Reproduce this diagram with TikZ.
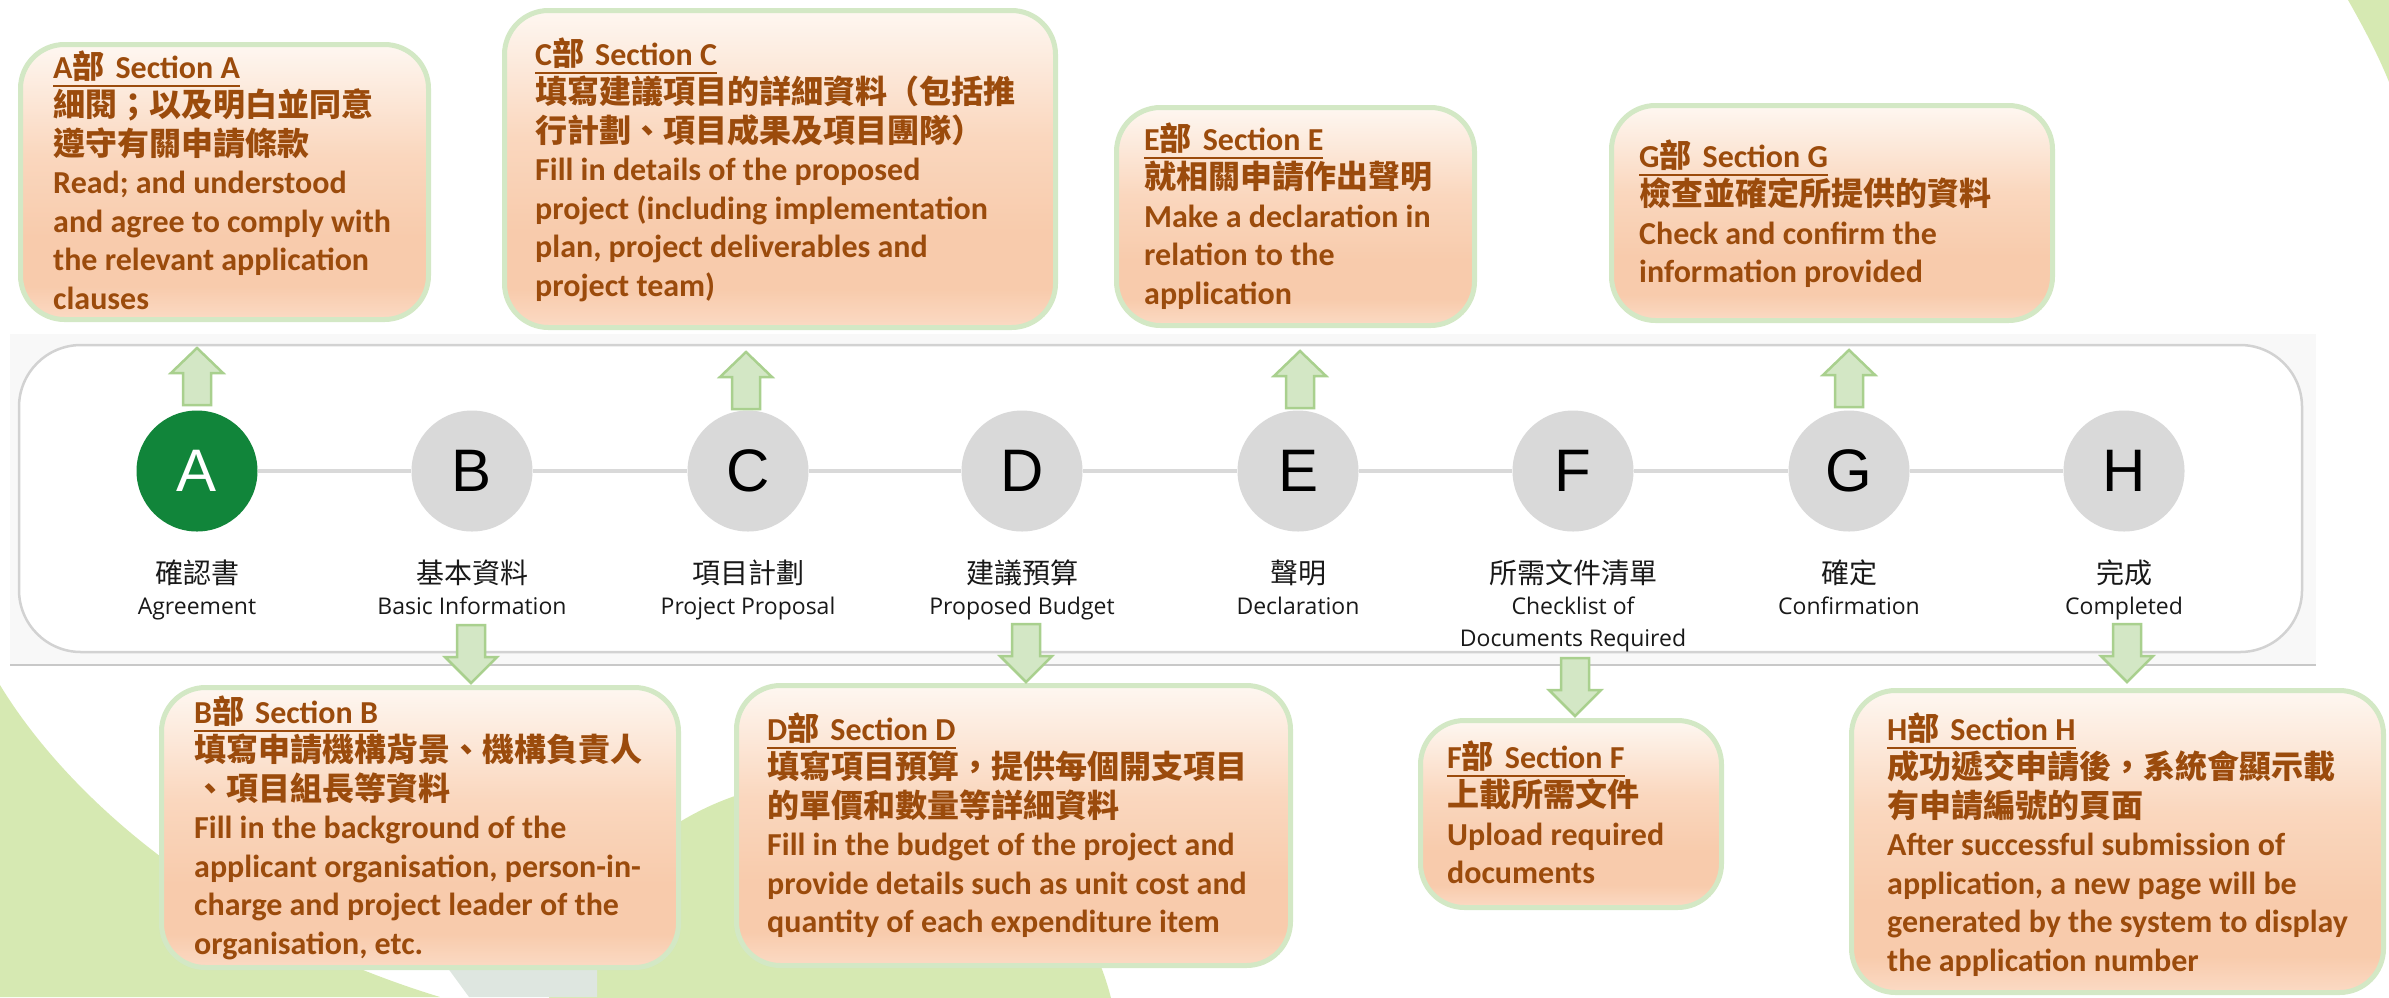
\documentclass[tikz,border=0pt]{standalone}
\usepackage{fontspec}
\setmainfont{Carlito}
\newfontfamily\cjk{Noto Sans CJK TC}
\newfontfamily\lblfont{Open Sans}
\newfontfamily\letterfont{Liberation Sans}
\usetikzlibrary{fit}
\definecolor{txt}{RGB}{155,75,12}
\definecolor{lbltext}{RGB}{25,25,25}
\definecolor{boxline}{RGB}{211,232,197}
\definecolor{arrfill}{RGB}{211,231,197}
\definecolor{arrline}{RGB}{169,208,142}
\definecolor{bgreen}{RGB}{214,233,178}
\definecolor{bgray}{RGB}{222,230,224}
\definecolor{band}{RGB}{248,248,248}
\definecolor{bandline}{RGB}{200,200,200}
\definecolor{panelline}{RGB}{210,210,210}
\definecolor{circgray}{RGB}{217,217,217}
\definecolor{circgreen}{RGB}{17,133,58}
\definecolor{pkT}{RGB}{254,247,241}
\definecolor{pkM}{RGB}{250,215,190}
\definecolor{pkL}{RGB}{248,203,172}
\definecolor{pkB}{RGB}{251,218,196}
\pgfdeclareverticalshading{peach}{100bp}{color(0bp)=(pkB); color(25bp)=(pkB); color(31bp)=(pkL); color(40bp)=(pkL); color(55bp)=(pkM); color(75bp)=(pkT); color(100bp)=(pkT)}
\newsavebox\hb
\newcommand\hdr[1]{\leavevmode\sbox\hb{#1{\cjk 部}\hspace{11pt}Section #1}\rlap{\rule[-9pt]{\wd\hb}{2.4pt}}\usebox\hb}
\tikzset{
 secbox/.style={draw=boxline, line width=5pt, rounded corners=44pt, shading=peach, inner sep=0pt},
 boxtext/.style={anchor=base west, inner sep=0pt, text=txt, font=\fontsize{32}{38.5}\selectfont\bfseries},
 circ/.style={circle, minimum size=121pt, inner sep=0pt, fill=circgray, text=black, font=\letterfont\fontsize{60}{62}\selectfont, text depth=0pt},
 cnlbl/.style={anchor=base, inner sep=0pt, font=\cjk\fontsize{28}{30}\selectfont, text=lbltext},
 enlbl/.style={anchor=base, inner sep=0pt, font=\lblfont\fontsize{23}{32}\selectfont, text=lbltext},
 conn/.style={draw=circgray, line width=4.5pt},
 arr/.style={fill=arrfill, draw=arrline, line width=2.5pt, line join=miter},
 uparrow/.pic={\path[arr] (-14,0) -- (-14,-32) -- (-26,-32) -- (0,-57) -- (26,-32) -- (14,-32) -- (14,0) -- cycle;},
 downarrow/.pic={\path[arr] (-14,0) -- (-14,32) -- (-26,32) -- (0,58) -- (26,32) -- (14,32) -- (14,0) -- cycle;},
}
\begin{document}
\begin{tikzpicture}[x=1pt,y=-1pt]
\useasboundingbox (0,0) rectangle (2389,997);
% background decoration
\begin{scope}
\clip (0,0) rectangle (2389,997);
\fill[bgreen] (2348,0) .. controls (2365,30) and (2378,55) .. (2389,82) -- (2389,0) -- cycle;
\fill[bgreen] (0,685) .. controls (70,800) and (220,930) .. (440,997) -- (0,997) -- cycle;
\fill[bgreen] (830,1070) circle (290);
\fill[bgray] (420,930) -- (597,930) -- (597,997) -- (469,997) -- cycle;
\end{scope}
% band and panel
\fill[band] (10,334) rectangle (2316,665);
\draw[bandline, line width=2pt] (10,665) -- (2316,665);
\draw[panelline, line width=2.5pt, fill=white, rounded corners=62pt] (19,345) rectangle (2302,652);
% circles
\node[circ, fill=circgreen, text=white] (cA) at (197,471) {A};
\node[circ] (cB) at (472,471) {B};
\node[circ] (cC) at (748,471) {C};
\node[circ] (cD) at (1022,471) {D};
\node[circ] (cE) at (1298,471) {E};
\node[circ] (cF) at (1573,471) {F};
\node[circ] (cG) at (1849,471) {G};
\node[circ] (cH) at (2124,471) {H};
\draw[conn] (cA) -- (cB);
\draw[conn] (cB) -- (cC);
\draw[conn] (cC) -- (cD);
\draw[conn] (cD) -- (cE);
\draw[conn] (cE) -- (cF);
\draw[conn] (cF) -- (cG);
\draw[conn] (cG) -- (cH);
% labels
\node[cnlbl] (zA) at (197,583) {確認書};
\node[cnlbl] (zB) at (472,583) {基本資料};
\node[cnlbl] (zC) at (748,583) {項目計劃};
\node[cnlbl] (zD) at (1022,583) {建議預算};
\node[cnlbl] (zE) at (1298,583) {聲明};
\node[cnlbl] (zF) at (1573,583) {所需文件清單};
\node[cnlbl] (zG) at (1849,583) {確定};
\node[cnlbl] (zH) at (2124,583) {完成};
\node[enlbl] (eA) at (197,614) {Agreement};
\node[enlbl] (eB) at (472,614) {Basic Information};
\node[enlbl] (eC) at (748,614) {Project Proposal};
\node[enlbl] (eD) at (1022,614) {Proposed Budget};
\node[enlbl] (eE) at (1298,614) {Declaration};
\node[enlbl] (eF) at (1573,614) {Checklist of};
\node[enlbl] (eF2) at (1573,646) {Documents Required};
\node[enlbl] (eG) at (1849,614) {Confirmation};
\node[enlbl] (eH) at (2124,614) {Completed};
% section boxes
\node[secbox, fit={(20.5,44.5) (428.5,319.5)}] (bA) {};
\node[secbox, fit={(504.5,10.5) (1055.5,327.5)}] (bC) {};
\node[secbox, fit={(1116.5,107.5) (1474.5,325.5)}] (bE) {};
\node[secbox, fit={(1611.5,105.5) (2052.5,320.5)}] (bG) {};
\node[secbox, fit={(161.5,687.5) (678.5,967.5)}] (bB) {};
\node[secbox, fit={(736.5,685.5) (1290.5,965.5)}] (bD) {};
\node[secbox, fit={(1420.5,720.5) (1721.5,907.5)}] (bF) {};
\node[secbox, fit={(1851.5,690.5) (2383.5,992.5)}] (bH) {};
% box texts
\node[boxtext] (tA) at (53,78) {\parbox[t]{600pt}{\hdr{A}\\
{\cjk 細閱；以及明白並同意}\\
{\cjk 遵守有關申請條款}\\
Read; and understood\\
and agree to comply with\\
the relevant application\\
clauses}};
\node[boxtext] (tC) at (535,65) {\parbox[t]{600pt}{\hdr{C}\\
{\cjk 填寫建議項目的詳細資料（包括推}\\
{\cjk 行計劃、項目成果及項目團隊）}\\
Fill in details of the proposed\\
project (including implementation\\
plan, project deliverables and\\
project team)}};
\node[boxtext] (tE) at (1144,150) {\parbox[t]{600pt}{\hdr{E}\\
{\cjk 就相關申請作出聲明}\\
Make a declaration in\\
relation to the\\
application}};
\node[boxtext] (tG) at (1639,167) {\parbox[t]{600pt}{\hdr{G}\\
{\cjk 檢查並確定所提供的資料}\\
Check and confirm the\\
information provided}};
\node[boxtext] (tB) at (194,723) {\parbox[t]{600pt}{\hdr{B}\\
{\cjk 填寫申請機構背景、機構負責人}\\
{\cjk 、項目組長等資料}\\
Fill in the background of the\\
applicant organisation, person-in-\\
charge and project leader of the\\
organisation, etc.}};
\node[boxtext] (tD) at (767,740) {\parbox[t]{600pt}{\hdr{D}\\
{\cjk 填寫項目預算，提供每個開支項目}\\
{\cjk 的單價和數量等詳細資料}\\
Fill in the budget of the project and\\
provide details such as unit cost and\\
quantity of each expenditure item}};
\node[boxtext] (tF) at (1447,768) {\parbox[t]{600pt}{\hdr{F}\\
{\cjk 上載所需文件}\\
Upload required\\
documents}};
\node[boxtext] (tH) at (1887,740) {\parbox[t]{600pt}{\hdr{H}\\
{\cjk 成功遞交申請後，系統會顯示載}\\
{\cjk 有申請編號的頁面}\\
After successful submission of\\
application, a new page will be\\
generated by the system to display\\
the application number}};
% block arrows
\coordinate (uA) at (197,405);
\coordinate (uC) at (746,409);
\coordinate (uE) at (1300,408);
\coordinate (uG) at (1849,407);
\coordinate (dB) at (471,625);
\coordinate (dD) at (1026,624);
\coordinate (dF) at (1575,658);
\coordinate (dH) at (2127,624);
\pic at (uA) {uparrow};
\pic at (uC) {uparrow};
\pic at (uE) {uparrow};
\pic at (uG) {uparrow};
\pic at (dB) {downarrow};
\pic at (dD) {downarrow};
\pic at (dF) {downarrow};
\pic at (dH) {downarrow};
\end{tikzpicture}
\end{document}
